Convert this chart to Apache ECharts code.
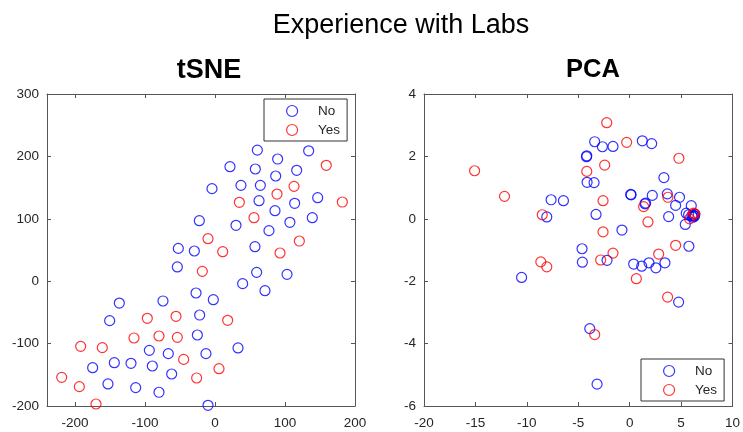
<!DOCTYPE html>
<html lang="en">
<head>
    <meta charset="UTF-8">
    <title>Experience with Labs</title>
    <script src="https://cdn.jsdelivr.net/npm/echarts@6/dist/echarts.min.js"></script>
</head>
<body style="margin:0">
<div id="main" style="width:743px;height:432px;"></div>
<script type="text/javascript">

// tSNE embedding, [x, y]
var tsneNo = [
    [60.5,210],[133.8,209],[89.5,195.8],[21.4,183.5],[57.6,179.8],[116.7,177.7],[86.7,168.6],
    [37.1,153.6],[64.8,153.6],[-4.3,148.3],[62.9,129],[113.8,124.8],[146.7,133.8],[85.7,113],
    [-22.4,97],[30,89.6],[107,94.4],[139,101.8],[77.1,81],[-52.4,52.6],[-29.5,48.4],[57.1,55.3],
    [-53.8,22.8],[59.5,14.2],[102.9,11],[39.5,-3.9],[-27.1,-18.9],[71.4,-15.2],[-136.7,-35],
    [-74.3,-31.7],[-2.4,-29.6],[-150.5,-63.2],[-21.9,-54.2],[-25.2,-86.2],[32.9,-107],
    [-93.8,-110.8],[-66.7,-116.1],[-12.9,-116.1],[-174.8,-138.6],[-143.8,-130.6],[-120,-131.6],
    [-89.5,-135.9],[-61.9,-148.7],[-152.9,-164.7],[-113.3,-170.5],[-80,-178],[-10,-198.9]
];
var tsneYes = [
    [159,185.7],[112.9,152],[88.6,139.7],[34.8,126.4],[181.9,126.9],[55.7,101.8],[-10,68.1],
    [120.5,64.4],[11,47.3],[92.9,45.2],[-18.1,15.8],[-96.7,-59.5],[-55.7,-56.3],[18.1,-62.7],
    [-191.9,-104.4],[-161,-106.5],[-115.7,-91],[-80,-87.8],[-53.8,-90],[-44.8,-125.3],
    [5.7,-140.2],[-219,-154.1],[-193.8,-169],[-26.2,-155.1],[-170,-196.8]
];

// PCA projection, [x, y]
var pcaNo = [
    [-3.4,2.47],[-2.65,2.31],[-1.62,2.32],[1.23,2.5],[2.14,2.41],[-4.2,1.99],[-4.17,2.02],
    [-4.14,1.17],[-3.46,1.16],[-7.64,0.61],[-6.44,0.58],[-8.06,0.06],[-3.27,0.14],[0.1,0.78],
    [0.14,0.77],[2.2,0.75],[1.49,0.48],[1.55,0.5],[3.33,1.32],[3.66,0.8],[4.85,0.69],[4.47,0.43],
    [5.99,0.42],[5.5,0.18],[3.79,0.07],[5.41,-0.18],[5.73,0.13],[6.31,0.08],[6.2,0.12],
    [6.15,0.05],[6.35,0.15],[6.25,0.1],[6.05,0.1],[-0.75,-0.36],[5.76,-0.88],[-4.63,-0.96],
    [-4.6,-1.39],[-2.2,-1.33],[0.39,-1.45],[1.17,-1.52],[1.88,-1.41],[2.55,-1.57],[3.43,-1.41],
    [-10.51,-1.88],[4.76,-2.67],[-3.88,-3.52],[-3.17,-5.3]
];
var pcaYes = [
    [-2.23,3.08],[-15.08,1.54],[-12.17,0.72],[-8.5,0.13],[-4.17,1.52],[-2.43,1.72],[-0.29,2.45],
    [-2.59,0.58],[4.79,1.94],[1.36,0.39],[3.72,0.69],[1.78,-0.1],[-2.59,-0.42],[5.83,0],
    [6.31,0.16],[6.2,0.18],[4.47,-0.85],[-1.62,-1.1],[2.82,-1.13],[-8.64,-1.38],[-8.06,-1.54],
    [-2.82,-1.32],[0.65,-1.92],[3.69,-2.51],[-3.4,-3.71]
];

var tsneXTicks = [-200, -100, 0, 100, 200];

var axisColor = '#555';
var textColor = '#262626';
var font = 'Liberation Sans, Arial, sans-serif';

function axis(pos, gridIndex, min, max, interval, showLabel, custom) {
    var a = {
        type: 'value',
        gridIndex: gridIndex,
        position: pos,
        min: min,
        max: max,
        splitLine: {show: false},
        axisLine: {show: true, onZero: false, lineStyle: {color: axisColor, width: 1}},
        axisTick: {show: true, inside: true, length: 4, lineStyle: {color: axisColor}},
        axisLabel: {show: showLabel, color: textColor, fontSize: 13.5, fontFamily: font,
            margin: (pos === 'bottom' ? 10 : 8)}
    };
    if (custom) {
        a.axisTick.customValues = custom;
        a.axisLabel.customValues = custom;
    } else {
        a.interval = interval;
    }
    return a;
}

function scatter(name, color, data, idx) {
    return {
        name: name,
        type: 'scatter',
        xAxisIndex: idx,
        yAxisIndex: idx,
        data: data,
        symbol: 'circle',
        symbolSize: 10,
        itemStyle: {color: 'rgba(0,0,0,0)', borderColor: color, borderWidth: 1.2},
        emphasis: {disabled: true}
    };
}

function legend(left, top) {
    return {
        orient: 'vertical',
        left: left,
        top: top,
        data: ['No', 'Yes'],
        itemWidth: 42,
        itemHeight: 11,
        itemGap: 5,
        padding: [5, 7, 4, 22],
        borderColor: '#333',
        borderWidth: 1,
        backgroundColor: '#fff',
        selectedMode: false,
        itemStyle: {borderWidth: 1.2},
        textStyle: {color: textColor, fontSize: 13.5, fontFamily: font}
    };
}

var myChart = echarts.init(document.getElementById('main'));

myChart.setOption({
    animation: false,
    title: [
        {text: 'Experience with Labs', left: 396, top: 7, textAlign: 'center',
            textStyle: {fontSize: 27, fontWeight: 'normal', color: '#000', fontFamily: font}},
        {text: 'tSNE', left: 204, top: 52, textAlign: 'center',
            textStyle: {fontSize: 27, fontWeight: 'bold', color: '#000', fontFamily: font}},
        {text: 'PCA', left: 588, top: 52, textAlign: 'center',
            textStyle: {fontSize: 25.5, fontWeight: 'bold', color: '#000', fontFamily: font}}
    ],
    legend: [legend(264, 99), legend(641, 359)],
    grid: [
        {left: 47, top: 94, width: 308, height: 312},
        {left: 424, top: 94, width: 309, height: 312}
    ],
    xAxis: [
        axis('bottom', 0, -240, 200, 100, true, tsneXTicks),
        axis('bottom', 1, -20, 10, 5, true),
        axis('top', 0, -240, 200, 100, false, tsneXTicks),
        axis('top', 1, -20, 10, 5, false)
    ],
    yAxis: [
        axis('left', 0, -200, 300, 100, true),
        axis('left', 1, -6, 4, 2, true),
        axis('right', 0, -200, 300, 100, false),
        axis('right', 1, -6, 4, 2, false)
    ],
    series: [
        scatter('No', '#0000ff', tsneNo, 0),
        scatter('Yes', '#ff0000', tsneYes, 0),
        scatter('No', '#0000ff', pcaNo, 1),
        scatter('Yes', '#ff0000', pcaYes, 1)
    ]
});

</script>
</body>
</html>
